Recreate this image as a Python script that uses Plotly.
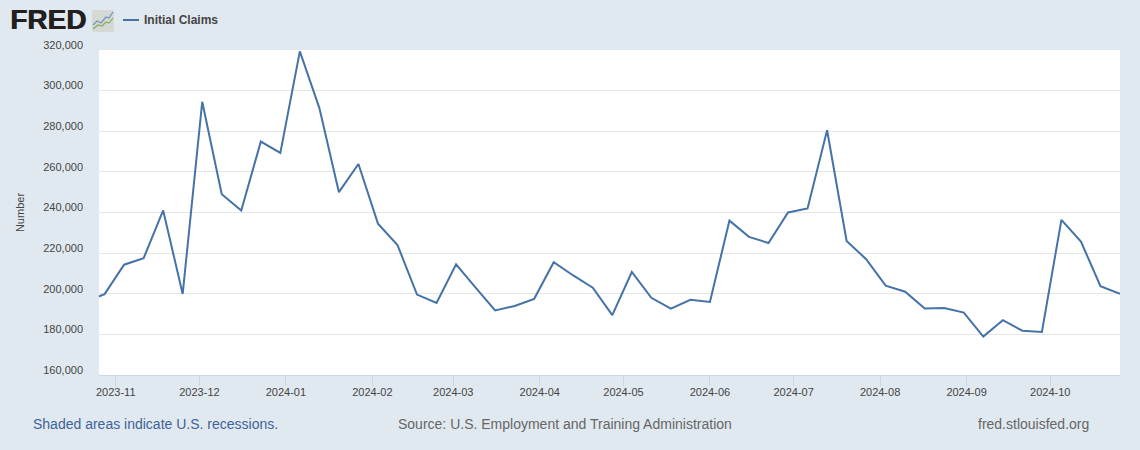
import plotly.graph_objects as go

dates = ["2023-10-21","2023-10-28","2023-11-04","2023-11-11","2023-11-18","2023-11-25","2023-12-02","2023-12-09","2023-12-16","2023-12-23","2023-12-30",
"2024-01-06","2024-01-13","2024-01-20","2024-01-27","2024-02-03","2024-02-10","2024-02-17","2024-02-24",
"2024-03-02","2024-03-09","2024-03-16","2024-03-23","2024-03-30","2024-04-06","2024-04-13","2024-04-20","2024-04-27",
"2024-05-04","2024-05-11","2024-05-18","2024-05-25","2024-06-01","2024-06-08","2024-06-15","2024-06-22","2024-06-29",
"2024-07-06","2024-07-13","2024-07-20","2024-07-27","2024-08-03","2024-08-10","2024-08-17","2024-08-24","2024-08-31",
"2024-09-07","2024-09-14","2024-09-21","2024-09-28","2024-10-05","2024-10-12","2024-10-19","2024-10-26"]
claims = [196000,199800,214300,217500,241000,199900,294500,249000,241000,274900,269300,
319300,291400,250000,263900,234500,224000,199600,195500,
214500,203000,191800,194000,197500,215500,209000,203000,189500,
210700,198000,192700,197000,196000,236000,228000,225000,240000,
242000,280500,226000,217000,204000,201000,192700,193000,190700,
178900,187000,181800,181200,236400,225700,203700,200000]

y_ticks = [160000,180000,200000,220000,240000,260000,280000,300000,320000]
x_ticks = ["2023-11-01","2023-12-01","2024-01-01","2024-02-01","2024-03-01","2024-04-01","2024-05-01","2024-06-01","2024-07-01","2024-08-01","2024-09-01","2024-10-01"]
x_range = ["2023-10-26","2024-10-26"]
y_range = [160000,320000]

FONT = "Liberation Sans, Arial, sans-serif"
TEXT = "#444444"
PW, PH = 1021, 325
ICON = ("data:image/svg+xml;utf8,<svg xmlns='http://www.w3.org/2000/svg' width='22' height='22' viewBox='0 0 22 22'>"
        "<rect x='0' y='0' width='22' height='22' rx='2' fill='%23d5d9d6'/>"
        "<polyline points='1,15 5,11 9,13 14,7 17,8 21,2' fill='none' stroke='%236f97b8' stroke-width='1.2'/>"
        "<polyline points='1,19 6,15 10,16 14,12 17,13 21,8' fill='none' stroke='%2389ab5f' stroke-width='1.2'/>"
        "</svg>")

fig = go.Figure(go.Scatter(x=dates, y=claims, mode="lines", name="Initial Claims",
                           line=dict(color="#4572a7", width=2), hoverinfo="x+y"))

fig.update_layout(
    width=1140, height=450,
    margin=dict(l=99, r=20, t=50, b=75),
    paper_bgcolor="#e1e9f0", plot_bgcolor="#ffffff",
    font=dict(family=FONT, size=11, color=TEXT),
    showlegend=False,
    xaxis=dict(type="date", range=x_range, tickmode="array", tickvals=x_ticks, tickformat="%Y-%m", automargin=False,
               showgrid=False, zeroline=False, showline=True, linecolor="#ccd6eb", linewidth=1,
               ticks="outside", ticklen=10, tickcolor="#ccd6eb", tickwidth=1, ticklabelstandoff=-3,
               tickfont=dict(family=FONT, size=11, color=TEXT)),
    yaxis=dict(range=y_range, tickmode="array", tickvals=y_ticks, tickformat=",d", automargin=False,
               showgrid=True, gridcolor="#e6e6e6", gridwidth=1, zeroline=False, showline=False,
               ticks="", ticklabelstandoff=15, ticklabelshift=-5,
               tickfont=dict(family=FONT, size=11, color=TEXT),
               title=dict(text="Number", font=dict(family=FONT, size=11, color=TEXT), standoff=16)),
    images=[dict(source=ICON, xref="paper", yref="paper", xanchor="left", yanchor="top",
                 x=-7/PW, y=1+40/PH, sizex=22/PW, sizey=22/PH, layer="above", sizing="stretch")],
    shapes=[dict(type="line", xref="paper", yref="paper", x0=24/PW, x1=40/PW, y0=1+30/PH, y1=1+30/PH,
                 line=dict(color="#4572a7", width=2))],
    annotations=[
        dict(text="<b>FRED</b>", xref="paper", yref="paper", x=-89/PW, y=1+30/PH, xanchor="left", yanchor="middle",
             showarrow=False, xshift=-2, font=dict(family=FONT, size=28, color="#231f20", shadow="0.7px 0 0 #231f20")),
        dict(text="<b>Initial Claims</b>", xref="paper", yref="paper", x=45/PW, y=1+30/PH, xanchor="left", yanchor="middle",
             showarrow=False, xshift=-2, font=dict(family=FONT, size=12, color=TEXT)),
        dict(text="Shaded areas indicate U.S. recessions.", xref="paper", yref="paper", x=-66/PW, y=-49/PH,
             xanchor="left", yanchor="middle", showarrow=False, xshift=-2, font=dict(family=FONT, size=14, color="#3e6399")),
        dict(text="Source: U.S. Employment and Training Administration", xref="paper", yref="paper", x=299/PW, y=-49/PH,
             xanchor="left", yanchor="middle", showarrow=False, xshift=-2, font=dict(family=FONT, size=14, color="#666666")),
        dict(text="fred.stlouisfed.org", xref="paper", yref="paper", x=879/PW, y=-49/PH,
             xanchor="left", yanchor="middle", showarrow=False, xshift=-2, font=dict(family=FONT, size=14, color="#666666")),
    ],
)
fig.write_html("out.html", config={"displayModeBar": False},
               post_script="document.body.style.margin='0';document.body.style.background='#e1e9f0';")
